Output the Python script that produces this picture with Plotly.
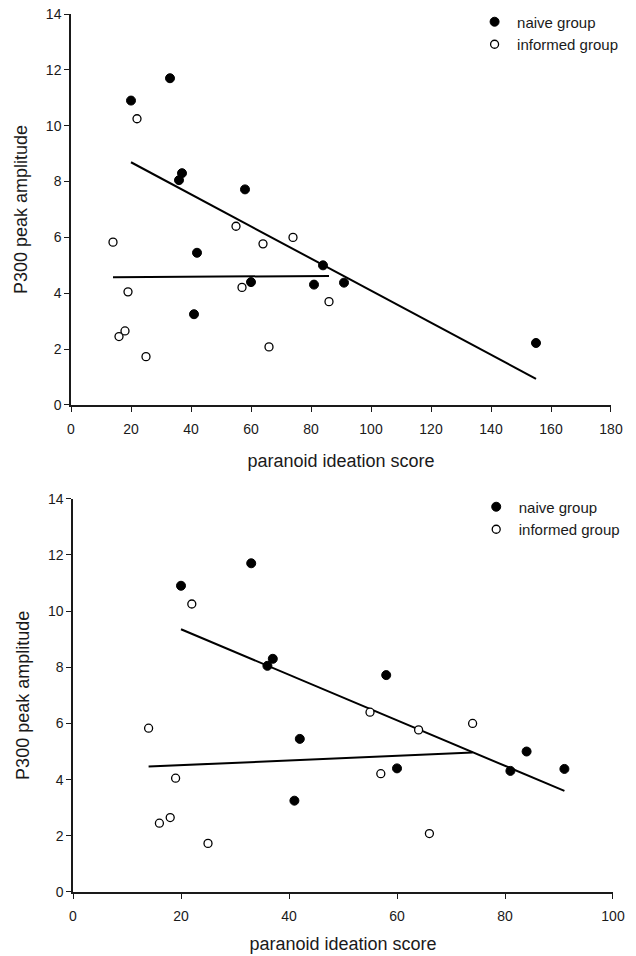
import numpy as np
import plotly.graph_objects as go

# ---- data ----
# top panel: all participants
naive_x = [20, 33, 36, 37, 41, 42, 58, 60, 81, 84, 91, 155]
naive_y = [10.9, 11.7, 8.05, 8.3, 3.25, 5.45, 7.72, 4.4, 4.31, 5.0, 4.38, 2.22]
informed_x = [14, 16, 18, 19, 22, 25, 55, 57, 64, 66, 74, 86]
informed_y = [5.83, 2.45, 2.65, 4.05, 10.25, 1.73, 6.4, 4.21, 5.77, 2.08, 6.0, 3.7]

# bottom panel: without the two highest-scoring participants
naive_x2 = [20, 33, 36, 37, 41, 42, 58, 60, 81, 84, 91]
naive_y2 = [10.9, 11.7, 8.05, 8.3, 3.25, 5.45, 7.72, 4.4, 4.31, 5.0, 4.38]
informed_x2 = [14, 16, 18, 19, 22, 25, 55, 57, 64, 66, 74]
informed_y2 = [5.83, 2.45, 2.65, 4.05, 10.25, 1.73, 6.4, 4.21, 5.77, 2.08, 6.0]

x_ticks_top = [0, 20, 40, 60, 80, 100, 120, 140, 160, 180]
x_ticks_bottom = [0, 20, 40, 60, 80, 100]
y_ticks = [0, 2, 4, 6, 8, 10, 12, 14]

FONT = "Liberation Sans, Arial, sans-serif"
INK = "#1a1a1a"


def fit_line(xs, ys):
    xs = np.asarray(xs, float)
    ys = np.asarray(ys, float)
    m, b = np.polyfit(xs, ys, 1)
    xx = np.array([xs.min(), xs.max()])
    return xx, m * xx + b


fig = go.Figure()

panels = [
    (naive_x, naive_y, informed_x, informed_y, "x", "y", "legend"),
    (naive_x2, naive_y2, informed_x2, informed_y2, "x2", "y2", "legend2"),
]

for nx, ny, ix, iy, xa, ya, lg in panels:
    for xs, ys in ((nx, ny), (ix, iy)):
        lx, ly = fit_line(xs, ys)
        fig.add_trace(go.Scatter(x=lx, y=ly, mode="lines", xaxis=xa, yaxis=ya,
                                 line=dict(color="black", width=2),
                                 showlegend=False, hoverinfo="skip"))
    fig.add_trace(go.Scatter(x=nx, y=ny, mode="markers", name="naive group",
                             xaxis=xa, yaxis=ya, legend=lg,
                             marker=dict(symbol="circle", size=9, color="black",
                                         line=dict(color="black", width=1))))
    fig.add_trace(go.Scatter(x=ix, y=iy, mode="markers", name="informed group",
                             xaxis=xa, yaxis=ya, legend=lg,
                             marker=dict(symbol="circle", size=8, color="white",
                                         line=dict(color="black", width=1.3))))

axis_common = dict(
    showline=True, linecolor=INK, linewidth=1.5, showgrid=False, zeroline=False,
    ticks="outside", ticklen=5, tickwidth=1.3, tickcolor=INK,
    tickfont=dict(family=FONT, size=14, color=INK),
    mirror=False, automargin=False, ticklabeloverflow="allow",
)

fig.update_layout(
    width=636, height=956,
    margin=dict(l=71, r=23, t=14, b=64, autoexpand=False),
    paper_bgcolor="white", plot_bgcolor="white",
    font=dict(family=FONT, color=INK),
    xaxis=dict(axis_common, domain=[0.0, 0.9963], range=[0, 180],
               tickvals=x_ticks_top, anchor="y", ticklabelstandoff=5,
               title=dict(text="paranoid ideation score", standoff=19,
                          font=dict(family=FONT, size=18, color=INK))),
    yaxis=dict(axis_common, domain=[0.5547, 1.0], range=[0, 14],
               tickvals=y_ticks, anchor="x",
               title=dict(text="P300 peak amplitude", standoff=14,
                          font=dict(family=FONT, size=18, color=INK))),
    xaxis2=dict(axis_common, domain=[0.0037, 1.0], range=[0, 100],
                tickvals=x_ticks_bottom, anchor="y2", ticklabelstandoff=5,
                title=dict(text="paranoid ideation score", standoff=15,
                           font=dict(family=FONT, size=18, color=INK))),
    yaxis2=dict(axis_common, domain=[0.0, 0.448], range=[0, 14],
                tickvals=y_ticks, anchor="x2",
                title=dict(text="P300 peak amplitude", standoff=14,
                           font=dict(family=FONT, size=18, color=INK))),
    legend=dict(x=0.74, y=1.0097, xanchor="left", yanchor="top",
                font=dict(family=FONT, size=15, color=INK), itemwidth=35,
                bgcolor="rgba(0,0,0,0)", tracegroupgap=0),
    legend2=dict(x=0.743, y=0.4573, xanchor="left", yanchor="top",
                 font=dict(family=FONT, size=15, color=INK), itemwidth=35,
                 bgcolor="rgba(0,0,0,0)", tracegroupgap=0),
)

# remove the browser's default 8px body margin so the figure fills the window
fig.write_html("out.html",
               config={"displayModeBar": False},
               post_script="document.body.style.margin='0';"
                           "document.body.style.overflow='hidden';")
